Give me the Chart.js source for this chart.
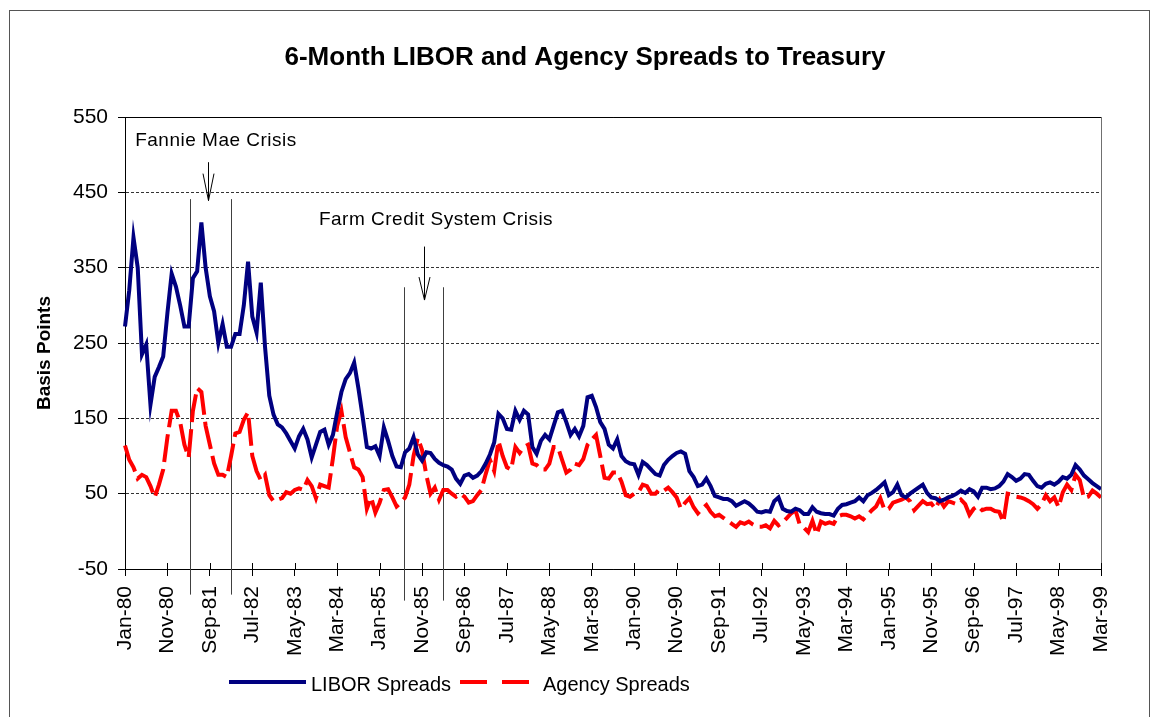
<!DOCTYPE html>
<html>
<head>
<meta charset="utf-8">
<title>6-Month LIBOR and Agency Spreads to Treasury</title>
<script src="https://cdn.jsdelivr.net/npm/chart.js@4.4.0/dist/chart.umd.min.js"></script>
<style>
	html, body { margin: 0; padding: 0; background: #fff; }
	#wrap { position: relative; width: 1154px; height: 717px; }
</style>
</head>
<body>
<div id="wrap"><canvas id="spreads"></canvas></div>
<script>
// month labels Jan-80 .. Mar-99
const monthNames = ['Jan', 'Feb', 'Mar', 'Apr', 'May', 'Jun', 'Jul', 'Aug', 'Sep', 'Oct', 'Nov', 'Dec'];
const firstYear = 1980;
const lastYear = 1999;
const lastMonth = 2;

const months = [];
for (let yr = firstYear; yr <= lastYear; yr++) {
	for (let m = 0; m < 12; m++) {
		if (yr === lastYear && m > lastMonth) break;
		months.push(monthNames[m] + '-' + String(yr).slice(2));
	}
}

// spreads in basis points, one value per month (rows are calendar years)
const liborSpread = [
	272, 320, 390, 350, 235, 248, 168, 205, 218, 232, 290, 342,
	325, 300, 272, 272, 336, 345, 410, 350, 312, 292, 250, 275,
	245, 245, 262, 262, 300, 358, 285, 264, 330, 245, 180, 155,
	142, 138, 130, 120, 110, 126, 136, 122, 98, 115, 132, 135,
	115, 128, 158, 185, 202, 210, 224, 190, 152, 112, 110, 113,
	100, 138, 120, 100, 86, 85, 105, 110, 125, 102, 94, 105,
	104, 96, 91, 88, 86, 82, 70, 63, 74, 76, 71, 74,
	80, 90, 102, 118, 156, 150, 136, 135, 160, 148, 160, 155,
	112, 103, 120, 128, 122, 140, 158, 160, 145, 128, 136, 126,
	140, 178, 180, 165, 145, 136, 115, 110, 122, 100, 93, 90,
	89, 75, 92, 88, 82, 76, 74, 88, 95, 100, 104, 106,
	103, 80, 72, 60, 62, 70, 60, 47, 45, 43, 43, 40,
	34, 37, 40, 37, 32, 26, 25, 27, 26, 40, 45, 30,
	27, 26, 30, 28, 23, 23, 32, 26, 24, 23, 23, 21,
	30, 35, 36, 38, 40, 45, 40, 48, 51, 55, 60, 65,
	48, 52, 62, 48, 45, 50, 54, 58, 62, 51, 45, 44,
	40, 42, 45, 47, 50, 54, 51, 56, 53, 46, 58, 58,
	56, 57, 60, 66, 76, 72, 67, 70, 76, 75, 67, 60,
	58, 63, 65, 62, 66, 72, 70, 75, 88, 82, 74, 69,
	64, 60, 56
];

const agencySpread = [
	114, 95, 85, 70, 75, 72, 60, 45, 62, 82, 125, 160,
	160, 145, 115, 98, 160, 190, 185, 140, 115, 90, 75, 75,
	72, 100, 130, 132, 148, 158, 100, 80, 68, 75, 48, 40,
	42, 44, 52, 50, 55, 57, 55, 68, 60, 44, 62, 60,
	58, 97, 140, 160, 125, 105, 85, 82, 72, 30, 45, 25,
	38, 55, 56, 45, 33, 38, 45, 62, 100, 124, 108, 75,
	50, 58, 42, 55, 55, 50, 46, 50, 46, 38, 40, 48,
	55, 76, 95, 80, 120, 100, 85, 82, 112, 104, 112, 115,
	90, 88, 82, 82, 90, 112, 112, 95, 78, 82, 90, 88,
	96, 115, 122, 128, 100, 71, 70, 78, 78, 66, 48, 46,
	50, 52, 62, 60, 50, 50, 56, 54, 58, 52, 45, 30,
	38, 44, 32, 24, 30, 35, 26, 20, 22, 18, 14, 10,
	6, 12, 10, 13, 9, 6, 6, 8, 4, 14, 8, 12,
	18, 24, 28, 9, 5, -1, 14, -4, 13, 10, 12, 10,
	20, 22, 22, 20, 17, 20, 16, 22, 28, 33, 44, 28,
	30, 38, 40, 42, 45, 40, 28, 34, 40, 36, 37, 30,
	42, 33, 40, 38, 36, 42, 36, 22, 30, 34, 28, 30,
	30, 27, 26, 12, 50, 49, 46, 45, 43, 40, 36, 30,
	36, 48, 40, 45, 32, 52, 62, 55, 75, 68, 44, 46,
	54, 50, 45
];

// crisis brackets, positions in month index / basis points
const crisisNames = ['Fannie Mae Crisis', 'Farm Credit System Crisis'];
const crisisStart = [15.3, 65.8];
const crisisEnd = [25, 74.9];
const crisisTop = [441, 324];
const bracketBottom = [-84, -92];
const arrowMonth = [19.6, 70.5];
const arrowFrom = [490, 378];
const arrowTo = [439, 307];
const noteMonth = [2.4, 45.7];
const noteLevel = [512, 406];

const FONT = "'Liberation Sans', Arial, sans-serif";
Chart.defaults.font.family = FONT;
Chart.defaults.color = '#000';

const chartDecor = {
	id: 'chartDecor',
	beforeDatasetsDraw(chart) {
		const {ctx} = chart;
		const {x, y} = chart.scales;
		ctx.save();
		ctx.strokeStyle = '#404040';
		ctx.lineWidth = 1;
		crisisStart.forEach((start, i) => {
			[start, crisisEnd[i]].forEach(m => {
				const px = Math.round(x.getPixelForValue(m)) + 0.5;
				ctx.beginPath();
				ctx.moveTo(px, y.getPixelForValue(crisisTop[i]));
				ctx.lineTo(px, y.getPixelForValue(bracketBottom[i]));
				ctx.stroke();
			});
		});
		ctx.restore();
	},
	afterDraw(chart) {
		const {ctx, chartArea} = chart;
		const {x, y} = chart.scales;
		ctx.save();

		// outer frame
		ctx.strokeStyle = '#555';
		ctx.lineWidth = 1;
		ctx.strokeRect(9.5, 10.5, 1140, 720);

		// plot frame: top and right edges
		ctx.strokeStyle = '#000';
		ctx.beginPath();
		ctx.moveTo(chartArea.left, chartArea.top + 0.5);
		ctx.lineTo(chartArea.right + 0.5, chartArea.top + 0.5);
		ctx.stroke();
		ctx.strokeStyle = '#707070';
		ctx.beginPath();
		ctx.moveTo(chartArea.right + 0.5, chartArea.top);
		ctx.lineTo(chartArea.right + 0.5, chartArea.bottom);
		ctx.stroke();

		// x tick marks cross the axis
		ctx.strokeStyle = '#000';
		for (let i = 0; i < months.length; i += 10) {
			const px = Math.round(x.getPixelForValue(i)) + 0.5;
			ctx.beginPath();
			ctx.moveTo(px, chartArea.bottom);
			ctx.lineTo(px, chartArea.bottom - 6);
			ctx.stroke();
		}

		// title
		ctx.fillStyle = '#000';
		ctx.font = 'bold 26px ' + FONT;
		ctx.textAlign = 'center';
		ctx.textBaseline = 'alphabetic';
		ctx.fillText('6-Month LIBOR and Agency Spreads to Treasury', 585, 65);

		// y axis title
		ctx.save();
		ctx.translate(45, 353);
		ctx.rotate(-Math.PI / 2);
		ctx.font = 'bold 19px ' + FONT;
		ctx.textBaseline = 'middle';
		ctx.fillText('Basis Points', 0, 0);
		ctx.restore();

		// crisis notes and arrows
		ctx.font = '19px ' + FONT;
		ctx.letterSpacing = '0.5px';
		ctx.textAlign = 'left';
		crisisNames.forEach((name, i) => {
			ctx.fillText(name, x.getPixelForValue(noteMonth[i]), y.getPixelForValue(noteLevel[i]));
			const ax = Math.round(x.getPixelForValue(arrowMonth[i])) + 0.5;
			const tip = y.getPixelForValue(arrowTo[i]);
			const headLen = i === 0 ? 27 : 23;
			ctx.beginPath();
			ctx.moveTo(ax, y.getPixelForValue(arrowFrom[i]));
			ctx.lineTo(ax, tip);
			ctx.moveTo(ax - 5.5, tip - headLen);
			ctx.lineTo(ax, tip);
			ctx.lineTo(ax + 5.5, tip - headLen);
			ctx.stroke();
		});
		ctx.letterSpacing = '0px';

		// legend
		const sets = chart.data.datasets;
		const legendY = 682;
		ctx.lineWidth = 4;
		ctx.strokeStyle = sets[0].borderColor;
		ctx.beginPath();
		ctx.moveTo(229, legendY);
		ctx.lineTo(306, legendY);
		ctx.stroke();
		ctx.strokeStyle = sets[1].borderColor;
		ctx.setLineDash([27, 15]);
		ctx.beginPath();
		ctx.moveTo(460, legendY);
		ctx.lineTo(529, legendY);
		ctx.stroke();
		ctx.setLineDash([]);
		ctx.font = '20px ' + FONT;
		ctx.fillStyle = '#000';
		ctx.fillText(sets[0].label, 311, 691);
		ctx.fillText(sets[1].label, 543, 691);

		ctx.restore();
	}
};

new Chart(document.getElementById('spreads'), {
	type: 'line',
	data: {
		labels: months,
		datasets: [{
			label: 'LIBOR Spreads',
			data: liborSpread,
			borderColor: '#000080',
			borderWidth: 4,
			pointRadius: 0,
			tension: 0
		}, {
			label: 'Agency Spreads',
			data: agencySpread,
			borderColor: '#ff0000',
			borderWidth: 4,
			borderDash: [28, 7],
			pointRadius: 0,
			tension: 0
		}]
	},
	options: {
		responsive: true,
		maintainAspectRatio: false,
		animation: false,
		layout: {
			padding: {left: 0, right: 53, top: 117, bottom: 0}
		},
		plugins: {
			legend: {display: false},
			title: {display: false},
			tooltip: {enabled: false}
		},
		scales: {
			x: {
				ticks: {
					autoSkip: false,
					minRotation: 90,
					maxRotation: 90,
					padding: 10,
					font: {size: 21},
					callback(val, i) {
						return i % 10 === 0 ? this.getLabelForValue(val) : '';
					}
				},
				grid: {
					drawOnChartArea: false,
					tickLength: 7,
					color: ctx => ctx.index % 10 === 0 ? '#000' : 'rgba(0,0,0,0)'
				},
				border: {color: '#000', width: 1},
				afterFit(scale) { scale.height = 148; }
			},
			y: {
				min: -50,
				max: 550,
				ticks: {
					stepSize: 100,
					padding: 10,
					font: {size: 21}
				},
				grid: {
					color: '#333',
					tickColor: '#000',
					tickLength: 7
				},
				border: {color: '#000', width: 1, dash: [3, 2]},
				afterFit(scale) { scale.width = 125; }
			}
		}
	},
	plugins: [chartDecor]
});
</script>
</body>
</html>
